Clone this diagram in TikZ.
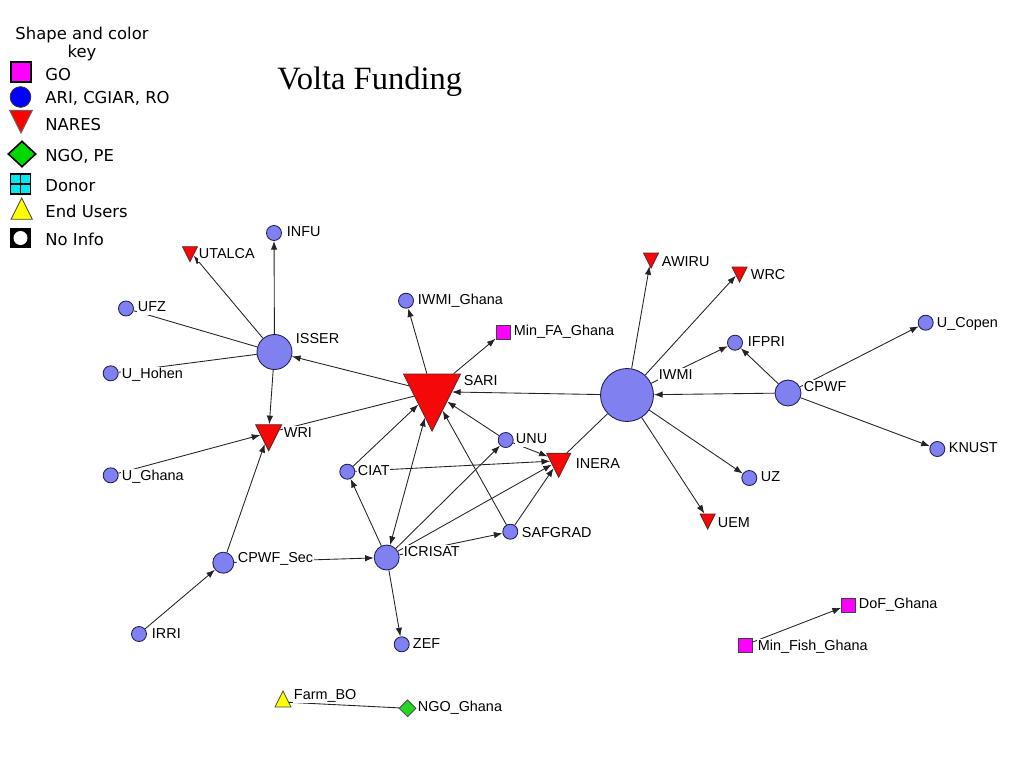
\documentclass[tikz,border=0pt]{standalone}
\usepackage{fontspec}
\setmainfont{Liberation Sans}
\newfontfamily\keyfont{DejaVu Sans}
\newfontfamily\titlefont{Liberation Serif}
\usetikzlibrary{shapes.geometric,arrows.meta}
\definecolor{orgblue}{RGB}{128,128,240}
\definecolor{orgline}{RGB}{30,30,90}
\definecolor{naresred}{RGB}{245,8,8}
\definecolor{naresline}{RGB}{105,35,35}
\definecolor{govpink}{RGB}{255,0,255}
\definecolor{ngogreen}{RGB}{35,215,35}
\definecolor{donorcyan}{RGB}{0,232,240}
\definecolor{useryellow}{RGB}{255,255,0}
\definecolor{tiecol}{RGB}{35,35,35}

\begin{document}
\begin{tikzpicture}[x=.75pt,y=-.75pt,line width=.65pt,
  org/.style={circle,draw=orgline,fill=orgblue,inner sep=0pt,minimum size=11.25pt},
  nares/.style={isosceles triangle,isosceles triangle apex angle=53.13,shape border rotate=270,
    draw=naresline,fill=naresred,inner sep=0pt,minimum width=#1,minimum height=#1,anchor=apex},
  nares/.default=11.25pt,
  gov/.style={rectangle,draw=black!75,fill=govpink,inner sep=0pt,minimum size=10.5pt},
  lbl/.style={anchor=base west,fill=white,inner sep=.4pt,text height=8pt,text depth=2.5pt,
    font=\fontsize{10.8}{12}\selectfont},
  keytext/.style={anchor=base west,inner sep=0pt,font=\keyfont\fontsize{12.3}{14}\selectfont},
  tie/.style={draw=tiecol},
  fund/.style={draw=tiecol,-{Latex[length=6.5pt,width=4.8pt]}}]
\useasboundingbox (0,0) rectangle (1024,768);

\node[keytext,anchor=base] (kHead) at (82,39) {Shape and color};
\node[keytext,anchor=base] (kHeadb) at (82,57.5) {key};
\node[rectangle,draw=black,line width=1pt,fill=govpink,minimum size=15pt,inner sep=0pt] (kGO) at (21,72) {};
\node[circle,draw=black!80,fill=blue,minimum size=15.5pt,inner sep=0pt] (kARI) at (20.5,97) {};
\node[nares=17pt,draw=black!60,fill=red] (kNARES) at (21,134) {};
\node[diamond,draw=black,line width=1.2pt,fill=green!85!black,minimum width=21pt,minimum height=19.5pt,inner sep=0pt] (kNGO) at (22,154) {};
\node[rectangle,draw=black,line width=1pt,fill=donorcyan,minimum size=15pt,inner sep=0pt,
  path picture={\draw[line width=.8pt] (path picture bounding box.north) -- (path picture bounding box.south)
  (path picture bounding box.west) -- (path picture bounding box.east);}] (kDonor) at (20.5,184) {};
\node[isosceles triangle,isosceles triangle apex angle=53.13,shape border rotate=90,draw=black!70,fill=useryellow,
  inner sep=0pt,minimum width=16pt,minimum height=16pt,anchor=apex] (kEnd) at (21.7,197) {};
\node[rectangle,fill=black,minimum size=15.5pt,inner sep=0pt] (kNoInfo) at (20.5,238) {};
\node[circle,fill=white,minimum size=10.5pt,inner sep=0pt] (kNoInfoDot) at (20.5,238) {};
\node[keytext] (tGO) at (45,80) {GO};
\node[keytext] (tARI) at (45,103) {ARI, CGIAR, RO};
\node[keytext] (tNARES) at (45,130) {NARES};
\node[keytext] (tNGO) at (45,161.7) {NGO, PE};
\node[keytext] (tDonor) at (45,191.7) {Donor};
\node[keytext] (tEnd) at (45,217.7) {End Users};
\node[keytext] (tNoInfo) at (45,245) {No Info};

\node[anchor=base west,inner sep=0pt,font=\titlefont\fontsize{24.4}{28}\selectfont] (title) at (277,89) {Volta Funding};

\node[org] (INFU) at (274,233) {};
\node[org] (UFZ) at (126,308.5) {};
\node[org,minimum size=26.25pt] (ISSER) at (274.5,352) {};
\node[org] (UHohen) at (110.7,373.3) {};
\node[org] (UGhana) at (110.7,475.3) {};
\node[org] (CIAT) at (347.3,471.7) {};
\node[org,minimum size=15.75pt] (CPWFSec) at (223.3,562.7) {};
\node[org,minimum size=18.75pt] (ICRISAT) at (386.7,557.5) {};
\node[org] (IRRI) at (139,634) {};
\node[org] (ZEF) at (401.7,644.3) {};
\node[org] (IWMIGhana) at (406,300.7) {};
\node[org] (UNU) at (505.7,440) {};
\node[org] (SAFGRAD) at (510.3,531.7) {};
\node[org,minimum size=39.75pt] (IWMI) at (627,395) {};
\node[org] (IFPRI) at (735,342.7) {};
\node[org,minimum size=19.5pt] (CPWF) at (788,393) {};
\node[org] (UCopen) at (925.7,322.7) {};
\node[org] (KNUST) at (937.3,449) {};
\node[org] (UZ) at (749.3,478) {};

\node[nares] (UTALCA) at (190,262.7) {};
\node[nares=19.5pt] (WRI) at (268.7,451.7) {};
\node[nares=42.75pt] (SARI) at (432,432) {};
\node[nares=18pt] (INERA) at (558.7,478.3) {};
\node[nares] (AWIRU) at (651,269) {};
\node[nares] (WRC) at (739.5,283) {};
\node[nares] (UEM) at (707.7,530) {};

\node[gov] (MinFAGhana) at (503,332.5) {};
\node[gov] (DoFGhana) at (848.5,605) {};
\node[gov] (MinFishGhana) at (745,645) {};
\node[isosceles triangle,isosceles triangle apex angle=53.13,shape border rotate=90,draw=black!70,fill=useryellow,
  inner sep=0pt,minimum width=12pt,minimum height=12pt,anchor=apex] (FarmBO) at (283,690) {};
\node[diamond,draw=black!70,fill=ngogreen,minimum size=12.75pt,inner sep=0pt] (NGOGhana) at (407.5,708.3) {};

\draw[fund] (ISSER) -- (INFU);
\draw[fund] (ISSER) -- (UTALCA);
\draw[tie] (ISSER) -- (UFZ);
\draw[tie] (ISSER) -- (UHohen);
\draw[fund] (ISSER) -- (WRI);
\draw[fund] (SARI) -- (ISSER);
\draw[tie] (SARI) -- (WRI);
\draw[fund] (UGhana) -- (WRI);
\draw[fund] (CPWFSec) -- (WRI);
\draw[fund] (IRRI) -- (CPWFSec);
\draw[fund] (CPWFSec) -- (ICRISAT);
\draw[fund] (ICRISAT) -- (CIAT);
\draw[fund] (CIAT) -- (SARI);
\draw[fund] (CIAT) -- (INERA);
\draw[draw=tiecol,{Latex[length=6.5pt,width=4.8pt]}-{Latex[length=6.5pt,width=4.8pt]}] (ICRISAT) -- (SARI);
\draw[fund] (ICRISAT) -- (UNU);
\draw[fund] (ICRISAT) -- (INERA);
\draw[fund] (ICRISAT) -- (SAFGRAD);
\draw[fund] (ICRISAT) -- (ZEF);
\draw[fund] (SAFGRAD) -- (SARI);
\draw[fund] (SAFGRAD) -- (INERA);
\draw[fund] (UNU) -- (SARI);
\draw[fund] (UNU) -- (INERA);
\draw[fund] (IWMI) -- (SARI);
\draw[tie] (IWMI) -- (INERA);
\draw[fund] (SARI) -- (IWMIGhana);
\draw[fund] (SARI) -- (MinFAGhana);
\draw[fund] (IWMI) -- (AWIRU);
\draw[fund] (IWMI) -- (WRC);
\draw[fund] (IWMI) -- (IFPRI);
\draw[fund] (IWMI) -- (UZ);
\draw[fund] (IWMI) -- (UEM);
\draw[fund] (CPWF) -- (IWMI);
\draw[fund] (CPWF) -- (IFPRI);
\draw[fund] (CPWF) -- (UCopen);
\draw[fund] (CPWF) -- (KNUST);
\draw[fund] (MinFishGhana) -- (DoFGhana);
\draw[tie] (FarmBO) -- (NGOGhana);

\node[lbl] (tINFU) at (286,236) {INFU};
\node[lbl] (tUTALCA) at (198,258) {UTALCA};
\node[lbl] (tUFZ) at (137,311) {UFZ};
\node[lbl] (tISSER) at (295,343) {ISSER};
\node[lbl] (tUHohen) at (121,378) {U\_Hohen};
\node[lbl] (tWRI) at (283,437) {WRI};
\node[lbl] (tUGhana) at (121,480) {U\_Ghana};
\node[lbl] (tCIAT) at (357,475) {CIAT};
\node[lbl] (tCPWFSec) at (237,562) {CPWF\_Sec};
\node[lbl] (tICRISAT) at (403,556) {ICRISAT};
\node[lbl] (tIRRI) at (151,638) {IRRI};
\node[lbl] (tZEF) at (412,648) {ZEF};
\node[lbl] (tFarmBO) at (293,699) {Farm\_BO};
\node[lbl] (tNGOGhana) at (417,711) {NGO\_Ghana};
\node[lbl] (tIWMIGhana) at (417,304) {IWMI\_Ghana};
\node[lbl] (tMinFAGhana) at (513,335) {Min\_FA\_Ghana};
\node[lbl] (tSARI) at (463,385) {SARI};
\node[lbl] (tUNU) at (515,443) {UNU};
\node[lbl] (tINERA) at (575,468) {INERA};
\node[lbl] (tSAFGRAD) at (521,537) {SAFGRAD};
\node[lbl] (tAWIRU) at (661,266) {AWIRU};
\node[lbl] (tWRC) at (750,279) {WRC};
\node[lbl] (tIFPRI) at (747,346) {IFPRI};
\node[lbl] (tIWMI) at (658,379) {IWMI};
\node[lbl] (tCPWF) at (803,391) {CPWF};
\node[lbl] (tUCopen) at (936,327) {U\_Copen};
\node[lbl] (tKNUST) at (948,452) {KNUST};
\node[lbl] (tUZ) at (760,481) {UZ};
\node[lbl] (tUEM) at (717,527) {UEM};
\node[lbl] (tDoFGhana) at (858,608) {DoF\_Ghana};
\node[lbl] (tMinFishGhana) at (757,650) {Min\_Fish\_Ghana};
\end{tikzpicture}
\end{document}
